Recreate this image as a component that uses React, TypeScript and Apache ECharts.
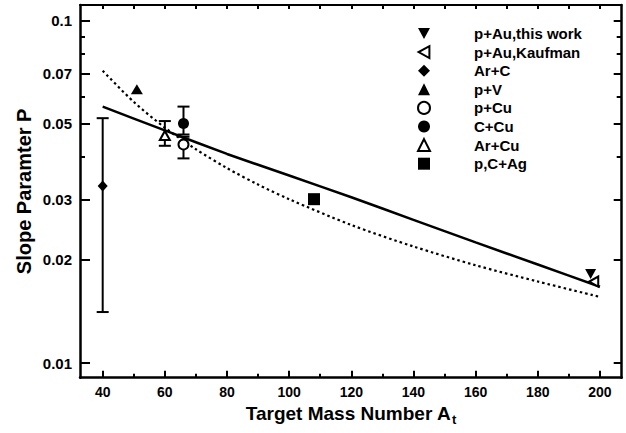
import React, { useEffect, useRef } from "react";
import * as echarts from "echarts";

// ---- axis extents & ticks ----
const X_MIN = 32.7;
const X_MAX = 207;
const Y_MIN = 0.00906;
const Y_MAX = 0.1111;

const xLabelTicks = [40, 60, 80, 100, 120, 140, 160, 180, 200];
const xMinorTicks = [50, 70, 90, 110, 130, 150, 170, 190];
const xTopTicks = [40, 50, 60, 70, 80, 90, 100, 110, 120, 130, 140, 150, 160, 170, 180, 190, 200];
const yLabelTicks = [0.01, 0.02, 0.03, 0.05, 0.07, 0.1];
const yMinorTicks = [0.04, 0.06, 0.08, 0.09];

// ---- legend ----
const legendNames = ["p+Au,this work", "p+Au,Kaufman", "Ar+C", "p+V", "p+Cu", "C+Cu", "Ar+Cu", "p,C+Ag"];

// ---- data points [A, P] ----
const pAuThisWork = [[197, 0.0182]];
const pAuKaufman = [[198, 0.0173]];
const arC = [[40, 0.0329]];
const pV = [[51, 0.063]];
const pCu = [[66, 0.0435]];
const cCu = [[66, 0.0501]];
const arCu = [[60, 0.0462]];
const pcAg = [[108, 0.0301]];

// ---- error bars [A, low, high] ----
const errorBars = [
  [40, 0.01409, 0.0519],
  [60, 0.0431, 0.0509],
  [66, 0.0465, 0.0561],
  [66, 0.0396, 0.0458],
];

// ---- fit curves ----
const solidFitA = [40, 60, 80, 100, 120, 140, 160, 180, 200];
const solidFitP = [0.0561, 0.0478, 0.0408, 0.0353, 0.0305, 0.0262, 0.0225, 0.0194, 0.0167];
const dottedFitA = [40, 50, 60, 70, 80, 90, 100, 120, 140, 160, 180, 200];
const dottedFitP = [0.0714, 0.0579, 0.0487, 0.0421, 0.0371, 0.0332, 0.0301, 0.0253, 0.0219, 0.0193, 0.0173, 0.0156];

const FONT = "Liberation Sans";
const BLACK = "#000";
const DOWN_TRI = "path://M0,0L10,0L5,9Z";
const LEFT_TRI = "path://M9,0L9,10L0,5Z";

export default function App() {
  const ref = useRef<HTMLDivElement>(null);

  useEffect(() => {
    const chart = echarts.init(ref.current as HTMLDivElement, null, { renderer: "svg" });

    const tickStyle = { color: BLACK, width: 2 };
    const baseX = {
      type: "value",
      min: X_MIN,
      max: X_MAX,
      splitLine: { show: false },
      axisLabel: { show: false },
    };
    const baseY = {
      type: "log",
      logBase: 10,
      min: Y_MIN,
      max: Y_MAX,
      splitLine: { show: false },
      axisLabel: { show: false },
    };

    const filled = { color: BLACK, opacity: 1 };
    const open = { color: "#fff", borderColor: BLACK, borderWidth: 2, opacity: 1 };

    const option: any = {
      animation: false,
      backgroundColor: "#fff",
      grid: { left: 80, right: 4.3, top: 5, bottom: 55.3, containLabel: false, outerBoundsMode: "none" },
      legend: {
        data: legendNames,
        orient: "vertical",
        left: 417,
        top: 26,
        padding: 0,
        itemWidth: 12,
        itemHeight: 12,
        itemGap: 3.6,
        selectedMode: false,
        formatter: (name: string) => "{g| }" + name,
        textStyle: {
          color: BLACK,
          fontSize: 15,
          fontWeight: "bold",
          fontFamily: FONT,
          rich: { g: { width: 39 } },
        },
      },
      xAxis: [
        {
          ...baseX,
          position: "bottom",
          axisLine: { show: true, onZero: false, lineStyle: { color: BLACK, width: 2.5 } },
          axisTick: { show: true, inside: true, length: 7, customValues: xLabelTicks, lineStyle: tickStyle },
          axisLabel: {
            show: true,
            customValues: xLabelTicks,
            color: BLACK,
            fontSize: 14,
            fontWeight: "bold",
            fontFamily: FONT,
            margin: 7,
          },
          name: "{n|Target Mass Number A}{s|t}",
          nameLocation: "middle",
          nameGap: 14,
          nameTextStyle: {
            rich: {
              n: { fontSize: 19, fontWeight: "bold", fontFamily: FONT, color: BLACK },
              s: { fontSize: 13, fontWeight: "bold", fontFamily: FONT, color: BLACK, padding: [13, 0, 0, 1] },
            },
          },
        },
        {
          ...baseX,
          position: "bottom",
          axisLine: { show: false, onZero: false },
          axisTick: { show: true, inside: true, length: 4, customValues: xMinorTicks, lineStyle: tickStyle },
        },
        {
          ...baseX,
          position: "top",
          axisLine: { show: true, onZero: false, lineStyle: { color: BLACK, width: 2 } },
          axisTick: { show: true, inside: true, length: 4, customValues: xTopTicks, lineStyle: tickStyle },
        },
      ],
      yAxis: [
        {
          ...baseY,
          position: "left",
          axisLine: { show: true, onZero: false, lineStyle: { color: BLACK, width: 2.5 } },
          axisTick: { show: true, inside: true, length: 10, customValues: yLabelTicks, lineStyle: tickStyle },
          axisLabel: {
            show: true,
            customValues: yLabelTicks,
            formatter: (v: number) => String(Number(Number(v).toPrecision(3))),
            color: BLACK,
            fontSize: 15,
            fontWeight: "bold",
            fontFamily: FONT,
            margin: 8,
          },
          name: "Slope Paramter P",
          nameLocation: "middle",
          nameGap: 46,
          nameMoveOverlap: false,
          nameTextStyle: { fontSize: 20, fontWeight: "bold", fontFamily: FONT, color: BLACK },
        },
        {
          ...baseY,
          position: "left",
          axisLine: { show: false, onZero: false },
          axisTick: { show: true, inside: true, length: 5, customValues: yMinorTicks, lineStyle: tickStyle },
        },
        {
          ...baseY,
          position: "right",
          axisLine: { show: true, onZero: false, lineStyle: { color: BLACK, width: 2.5 } },
          axisTick: { show: true, inside: true, length: 8, customValues: yLabelTicks, lineStyle: tickStyle },
        },
        {
          ...baseY,
          position: "right",
          axisLine: { show: false, onZero: false },
          axisTick: { show: true, inside: true, length: 5, customValues: yMinorTicks, lineStyle: tickStyle },
        },
      ],
      series: [
        {
          type: "line",
          name: "fit",
          data: solidFitA.map((a, i) => [a, solidFitP[i]]),
          showSymbol: false,
          smooth: 0.2,
          lineStyle: { color: BLACK, width: 2.5 },
          z: 2,
          silent: true,
        },
        {
          type: "line",
          name: "fit2",
          data: dottedFitA.map((a, i) => [a, dottedFitP[i]]),
          showSymbol: false,
          smooth: 0.3,
          lineStyle: { color: BLACK, width: 2.2, type: [2.5, 3] },
          z: 2,
          silent: true,
        },
        {
          type: "custom",
          name: "errors",
          data: errorBars,
          encode: { x: 0, y: [1, 2] },
          z: 3,
          silent: true,
          renderItem: (params: any, api: any) => {
            const x = api.value(0);
            const lo = api.coord([x, api.value(1)]);
            const hi = api.coord([x, api.value(2)]);
            const hw = 6;
            const st = { stroke: BLACK, lineWidth: 2 };
            return {
              type: "group",
              children: [
                { type: "line", shape: { x1: lo[0], y1: lo[1], x2: hi[0], y2: hi[1] }, style: st },
                { type: "line", shape: { x1: lo[0] - hw, y1: lo[1], x2: lo[0] + hw, y2: lo[1] }, style: st },
                { type: "line", shape: { x1: hi[0] - hw, y1: hi[1], x2: hi[0] + hw, y2: hi[1] }, style: st },
              ],
            };
          },
        },
        { type: "scatter", name: "p+Au,this work", data: pAuThisWork, symbol: DOWN_TRI, symbolKeepAspect: true, symbolSize: [11, 11], itemStyle: filled, z: 5 },
        { type: "scatter", name: "p+Au,Kaufman", data: pAuKaufman, symbol: LEFT_TRI, symbolKeepAspect: true, symbolSize: [10, 10], itemStyle: open, z: 5 },
        { type: "scatter", name: "Ar+C", data: arC, symbol: "diamond", symbolSize: [10, 11], itemStyle: filled, z: 5 },
        { type: "scatter", name: "p+V", data: pV, symbol: "triangle", symbolSize: [12, 10], itemStyle: filled, z: 5 },
        { type: "scatter", name: "p+Cu", data: pCu, symbol: "circle", symbolSize: 10, itemStyle: open, z: 5 },
        { type: "scatter", name: "C+Cu", data: cCu, symbol: "circle", symbolSize: 11, itemStyle: filled, z: 5 },
        { type: "scatter", name: "Ar+Cu", data: arCu, symbol: "triangle", symbolSize: [10, 9], itemStyle: open, z: 5 },
        { type: "scatter", name: "p,C+Ag", data: pcAg, symbol: "rect", symbolSize: 12, itemStyle: filled, z: 5 },
      ],
    };

    chart.setOption(option);
    return () => chart.dispose();
  }, []);

  return (
    <div
      ref={ref}
      style={{ position: "absolute", left: 0, top: 0, width: 626, height: 433, background: "#fff" }}
    />
  );
}
